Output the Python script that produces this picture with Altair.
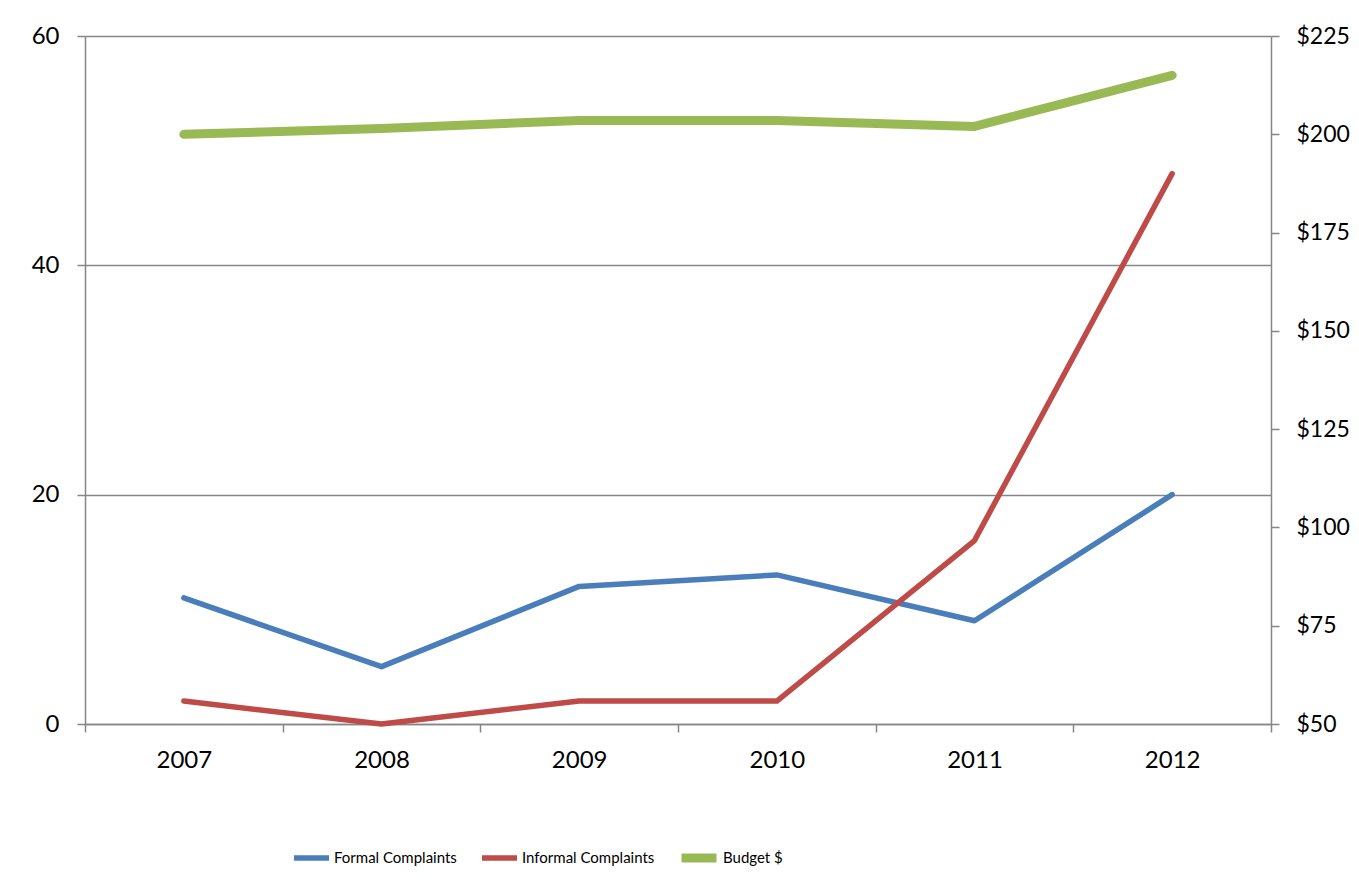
import altair as alt
import pandas as pd

years = ["2007", "2008", "2009", "2010", "2011", "2012"]
formal = [11, 5, 12, 13, 9, 20]
informal = [2, 0, 2, 2, 16, 48]
budget = [200, 201.5, 203.5, 203.5, 202, 215]

series_names = ["Formal Complaints", "Informal Complaints", "Budget $"]
colors = ["#4A7EBB", "#BE4B48", "#98B954"]
widths = [5.5, 5.5, 9]

left_ticks = [0, 20, 40, 60]
right_ticks = [50, 75, 100, 125, 150, 175, 200, 225]

rows = []
for y, f, i, b in zip(years, formal, informal, budget):
    rows.append({"year": y, "series": series_names[0], "value": f})
    rows.append({"year": y, "series": series_names[1], "value": i})
df_c = pd.DataFrame(rows)
df_b = pd.DataFrame({"year": years, "series": series_names[2], "value": budget})

GRAY = "#868686"
FONT = "Lato"

xenc = alt.X(
    "year:O",
    bandPosition=0.5,
    scale=alt.Scale(type="band", domain=years, paddingInner=0, paddingOuter=0),
    axis=alt.Axis(title=None, labelAngle=0, tickBand="extent", tickSize=8,
                  labelPadding=16, grid=False),
)

legend = alt.Legend(
    title=None, orient="none", direction="horizontal", legendX=206, legendY=812,
    symbolType="stroke", symbolSize=1225, labelFont=FONT, clipHeight=20,
    labelFontSize=15, labelColor="black", labelOffset=2, columnPadding=22,
)

color = alt.Color("series:N", scale=alt.Scale(domain=series_names, range=colors), legend=legend)
sw = alt.StrokeWidth("series:N",
                     scale=alt.Scale(type="ordinal", domain=series_names, range=widths),
                     legend=legend)

left = alt.Chart(df_c).mark_line(strokeCap="round", strokeJoin="round").encode(
    x=xenc,
    y=alt.Y("value:Q", scale=alt.Scale(domain=[0, 60]),
            axis=alt.Axis(title=None, values=left_ticks, orient="left", grid=True,
                          tickSize=8, labelPadding=18)),
    color=color,
    strokeWidth=sw,
)

right = alt.Chart(df_b).mark_line(strokeCap="round", strokeJoin="round").encode(
    x=xenc,
    y=alt.Y("value:Q", scale=alt.Scale(domain=[50, 225]),
            axis=alt.Axis(title=None, values=right_ticks, orient="right", grid=False,
                          format="$.0f", tickSize=8, labelPadding=17, labelFontSize=23)),
    color=color,
    strokeWidth=sw,
)

chart = alt.layer(left, right).resolve_scale(y="independent").properties(
    width=1186, height=688,
    autosize=alt.AutoSizeParams(type="none"),
    padding={"left": 77, "top": 28, "right": 80, "bottom": 164},
    background="white",
).configure_view(stroke=None).configure_axis(
    labelFont=FONT, labelFontSize=24, labelColor="black",
    domainColor=GRAY, tickColor=GRAY, gridColor=GRAY,
    domainWidth=1.5, tickWidth=1.5, gridWidth=1.5,
)

chart.save("out.html", embed_options={"renderer": "svg", "actions": False})
